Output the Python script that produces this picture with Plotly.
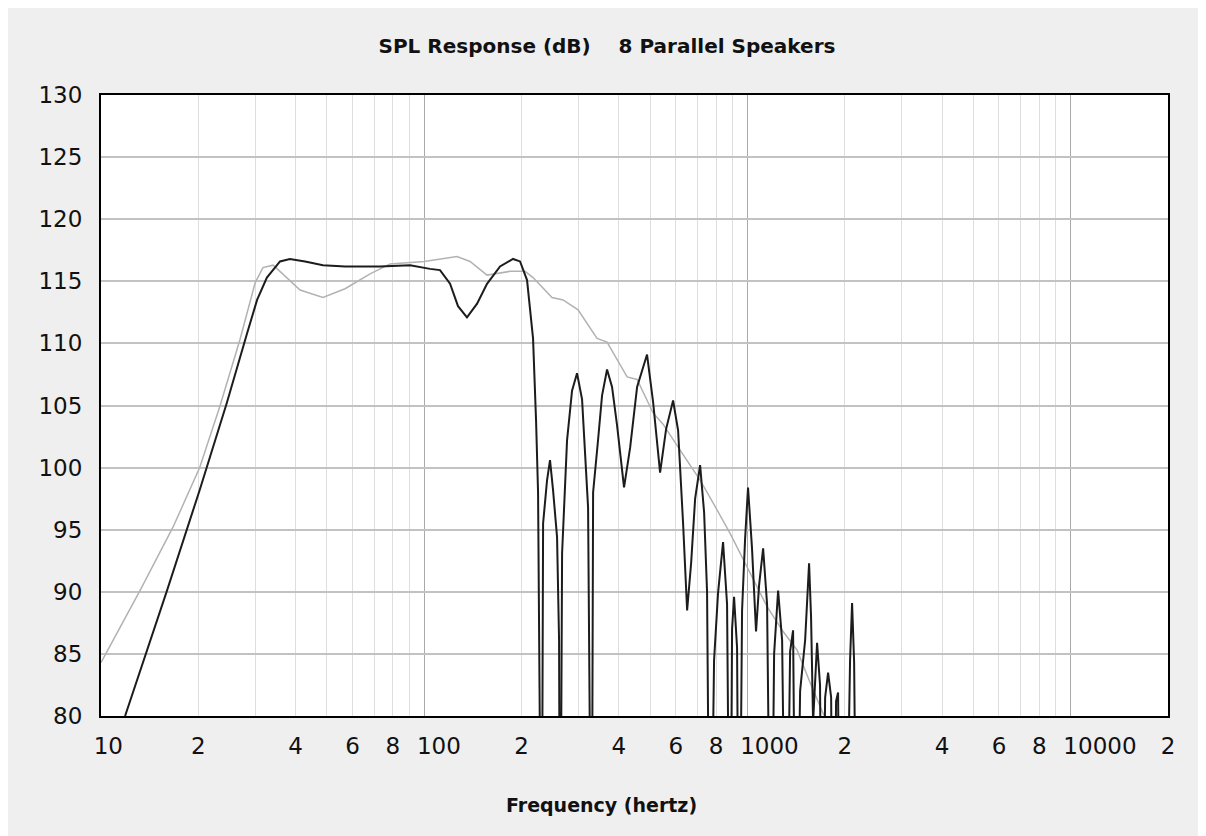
import math
import plotly.graph_objects as go

# ---- data ----
black_freq = [11.87, 16.0, 20.2, 24.5, 28.3, 30.4, 32.6, 35.8, 38.4, 42.8,
              48.6, 56.9, 73.0, 90.4, 104.2, 111.9, 120.2, 127.2, 135.6, 145.7,
              156.4, 171.6, 188.3, 197.9, 208.0, 217.1, 221.8, 225.0, 230.7, 233.2,
              239.9, 245.0, 250.3, 257.6, 261.3, 263.2, 267.0, 272.7, 276.6, 286.6,
              297.0, 307.8, 314.5, 321.3, 329.4, 333.0, 344.9, 354.9, 367.8, 381.1,
              395.0, 415.1, 433.5, 455.6, 489.0, 510.5, 536.6, 560.1, 588.7, 610.1,
              632.2, 650.6, 669.4, 688.8, 713.6, 734.3, 749.9, 766.1, 788.3, 810.9,
              840.4, 864.8, 883.5, 896.2, 908.9, 928.6, 941.9, 962.3, 983.0, 1004,
              1033, 1063, 1086, 1118, 1150, 1183, 1209, 1244, 1280, 1317,
              1355, 1384, 1414, 1455, 1508, 1551, 1573, 1596, 1642, 1677,
              1701, 1739, 1776, 1815, 1841, 1880, 1907, 1934, 2048, 2077,
              2107, 2138, 2184]
black_db = [80.0, 90.1, 98.2, 105.2, 110.8, 113.5, 115.3, 116.6, 116.8, 116.6,
            116.3, 116.2, 116.2, 116.3, 116.0, 115.9, 114.8, 113.0, 112.1, 113.2,
            114.8, 116.2, 116.8, 116.6, 115.1, 110.4, 103.8, 98.0, 60.0, 95.5,
            99.0, 100.6, 98.2, 94.4, 86.1, 60.0, 93.1, 98.8, 102.2, 106.2,
            107.6, 105.5, 101.4, 96.8, 60.0, 98.0, 102.2, 105.8, 107.9, 106.5,
            103.4, 98.4, 101.6, 106.5, 109.1, 105.3, 99.6, 103.1, 105.4, 103.0,
            95.5, 88.5, 92.3, 97.5, 100.2, 96.4, 90.0, 60.0, 84.5, 89.9,
            94.0, 89.0, 60.0, 87.0, 89.6, 85.5, 60.0, 88.5, 94.2, 98.4,
            93.5, 86.8, 90.5, 93.5, 89.0, 60.0, 85.0, 90.1, 86.1, 60.0,
            85.2, 86.9, 60.0, 82.0, 86.1, 92.3, 88.0, 79.5, 85.9, 82.5,
            60.0, 81.5, 83.5, 81.5, 60.0, 81.2, 81.9, 60.0, 75.0, 84.5,
            89.1, 84.3, 60.0]

gray_freq = [10, 13.2, 16.7, 20.2, 23.3, 26.9, 30.0, 31.7, 34.1, 41.3,
             48.6, 56.9, 68.0, 78.4, 100, 126.3, 138.6, 156.4, 184.3, 205.1,
             217.1, 248.5, 268.9, 299.2, 342.5, 367.8, 424.3, 455.6, 510.5, 548.2,
             618.8, 713.6, 805.2, 883.5, 997, 1150, 1289, 1424, 1562, 1714,
             1934]
gray_db = [84.3, 90.1, 95.2, 100.0, 104.9, 110.3, 114.9, 116.1, 116.3, 114.3,
           113.7, 114.4, 115.6, 116.4, 116.6, 117.0, 116.6, 115.5, 115.8, 115.8,
           115.3, 113.7, 113.5, 112.7, 110.4, 110.1, 107.3, 107.1, 104.4, 103.5,
           101.4, 99.0, 96.6, 94.7, 92.0, 88.8, 86.8, 85.3, 82.7, 80.2,
           78.0]

x_label_vals = [10, 20, 40, 60, 80, 100, 200, 400, 600, 800,
                1000, 2000, 4000, 6000, 8000, 10000, 20000]
x_label_text = ["10", "2", "4", "6", "8", "100", "2", "4", "6", "8",
                "1000", "2", "4", "6", "8", "10000", "2"]
decade_vals = [100, 1000, 10000]
minor_vals = [m * d for d in (10, 100, 1000) for m in range(2, 10)] + [20000]
y_ticks = [80, 85, 90, 95, 100, 105, 110, 115, 120, 125, 130]

W, H = 1198, 836
ML, MR, MT, MB = 93, 38, 87, 128
xr = [1, math.log10(20000)]
FONT_SIZE = 23
tick_font = dict(family="DejaVu Sans", size=FONT_SIZE, color="#111111")

# labels are left-anchored in the reference: the first digit sits on its grid
# line, so shift each label's anchor by half the width of its extra digits
px_per_decade = (W - ML - MR) / (xr[1] - xr[0])
digit_w = 0.636 * FONT_SIZE
label_pos = [v * 10 ** ((len(t) - 1) * digit_w / 2 / px_per_decade)
             for v, t in zip(x_label_vals, x_label_text)]

fig = go.Figure()
fig.add_trace(go.Scatter(x=gray_freq, y=gray_db, mode="lines",
                         line=dict(color="#b2b2b2", width=1.5),
                         xaxis="x", yaxis="y", showlegend=False, hoverinfo="skip"))
fig.add_trace(go.Scatter(x=black_freq, y=black_db, mode="lines",
                         line=dict(color="#1c1c1c", width=2),
                         xaxis="x2", yaxis="y", showlegend=False, hoverinfo="skip"))

fig.update_layout(
    width=W, height=H,
    margin=dict(l=ML, r=MR, t=MT, b=MB, pad=0),
    paper_bgcolor="#efefef", plot_bgcolor="white",
    title=dict(text="SPL Response (dB)\u00a0\u00a0\u00a0 8 Parallel Speakers",
               x=0.5, xref="container", xanchor="center",
               y=1 - 38 / H, yref="container", yanchor="middle",
               font=dict(family="DejaVu Sans", size=20, color="#111111", weight="bold")),
    xaxis=dict(type="log", range=xr, tickmode="array", tickvals=decade_vals,
               showticklabels=False, ticks="", showgrid=True,
               gridcolor="#a9a9a9", gridwidth=1,
               minor=dict(tickmode="array", tickvals=minor_vals, showgrid=True,
                          gridcolor="#dedede", gridwidth=1, ticks=""),
               showline=True, linecolor="#000000", linewidth=2, mirror=True,
               zeroline=False, fixedrange=True),
    xaxis2=dict(type="log", range=xr, overlaying="x", anchor="y", side="bottom",
                tickmode="array", tickvals=label_pos, ticktext=x_label_text,
                tickangle=0, ticks="", showgrid=False, showline=False, zeroline=False,
                tickfont=tick_font, ticklabelstandoff=14, fixedrange=True),
    yaxis=dict(range=[80, 130], tickmode="array", tickvals=y_ticks,
               ticks="", showgrid=True, gridcolor="#c2c2c2", gridwidth=1.5,
               showline=True, linecolor="#000000", linewidth=2, mirror=True,
               zeroline=False, tickfont=tick_font, ticklabelstandoff=12,
               fixedrange=True),
    annotations=[dict(text="Frequency (hertz)", xref="paper", yref="paper",
                      x=(601 - 101) / 1067, y=(716 - 805) / 621,
                      xanchor="center", yanchor="middle", showarrow=False,
                      font=dict(family="DejaVu Sans", size=19, color="#111111",
                                weight="bold"))],
)

fig.write_html("out.html")
